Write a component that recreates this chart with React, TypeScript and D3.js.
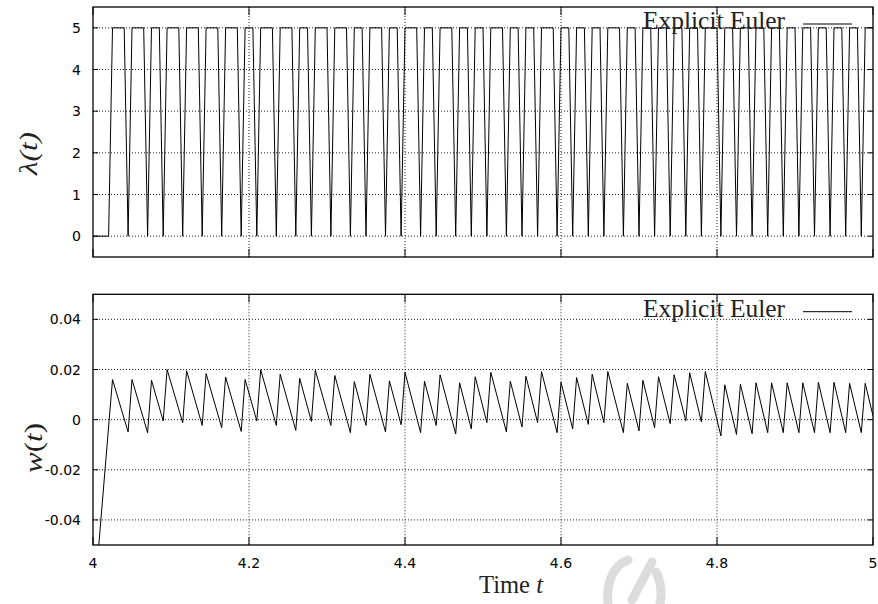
import React from "react";
import * as d3 from "d3";

// ---- data ----
const STEP = 0.005; // integrator step
const T_START = 4.0;
const T_END = 5.0;
const LAMBDA_LOW = 0;
const LAMBDA_HIGH = 5;
const LAMBDA_OFF_UNTIL = 4.02; // λ = 0 from t=4 to here, then switches to 5
// times at which λ drops to 0 (single-sample dips); w has its local minima here
const T_ZERO = [4.045, 4.07, 4.09, 4.115, 4.14, 4.165, 4.19, 4.21, 4.235, 4.26, 4.28, 4.305, 4.33, 4.35, 4.375, 4.395, 4.42, 4.44, 4.465, 4.485, 4.505, 4.53, 4.55, 4.57, 4.595, 4.615, 4.635, 4.655, 4.68, 4.70, 4.72, 4.74, 4.76, 4.78, 4.805, 4.825, 4.845, 4.865, 4.885, 4.905, 4.925, 4.945, 4.965, 4.985];
const W_MIN = [-0.0049, -0.0052, -0.0005, -0.0012, -0.0023, -0.0032, -0.0047, -0.0005, -0.0023, -0.0043, -0.0007, -0.0023, -0.0052, -0.0023, -0.0049, -0.0020, -0.0052, -0.0023, -0.0057, -0.0037, -0.0012, -0.0049, -0.0029, -0.0012, -0.0052, -0.0037, -0.0019, -0.0012, -0.0052, -0.0045, -0.0032, -0.0016, -0.0005, -0.0009, -0.0065, -0.0059, -0.0056, -0.0052, -0.0052, -0.0052, -0.0052, -0.0052, -0.0052, -0.0052];
// w peaks one step after each minimum
const W_PEAK = [0.0160, 0.0157, 0.0200, 0.0195, 0.0184, 0.0170, 0.0160, 0.0199, 0.0181, 0.0165, 0.0197, 0.0176, 0.0152, 0.0181, 0.0155, 0.0189, 0.0153, 0.0179, 0.0147, 0.0171, 0.0189, 0.0153, 0.0173, 0.0192, 0.0149, 0.0168, 0.0181, 0.0192, 0.0145, 0.0157, 0.0171, 0.0179, 0.0187, 0.0192, 0.0139, 0.0141, 0.0147, 0.0147, 0.0147, 0.0147, 0.0149, 0.0149, 0.0145, 0.0145];
const W_AT_START = -0.078;
const W_FIRST_PEAK = 0.016;
const W_AT_END = 0.0015;

const X_TICKS = [4, 4.2, 4.4, 4.6, 4.8, 5];
const X_TICK_LABELS = ["4", "4.2", "4.4", "4.6", "4.8", "5"];
const TOP_Y_TICKS = [0, 1, 2, 3, 4, 5];
const TOP_Y_TICK_LABELS = ["0", "1", "2", "3", "4", "5"];
const BOT_Y_TICKS = [-0.04, -0.02, 0, 0.02, 0.04];
const BOT_Y_TICK_LABELS = ["-0.04", "-0.02", "0", "0.02", "0.04"];
const LEGEND = "Explicit Euler";

// ---- build polylines from the data ----
const lambdaPts: [number, number][] = [
  [T_START, LAMBDA_LOW],
  [LAMBDA_OFF_UNTIL, LAMBDA_LOW],
  [LAMBDA_OFF_UNTIL + STEP, LAMBDA_HIGH],
];
T_ZERO.forEach((t) => {
  lambdaPts.push([t - STEP, LAMBDA_HIGH]);
  lambdaPts.push([t, LAMBDA_LOW]);
  lambdaPts.push([t + STEP, LAMBDA_HIGH]);
});
lambdaPts.push([T_END, LAMBDA_HIGH]);

const wPts: [number, number][] = [
  [T_START, W_AT_START],
  [LAMBDA_OFF_UNTIL + STEP, W_FIRST_PEAK],
];
T_ZERO.forEach((t, i) => {
  wPts.push([t, W_MIN[i]]);
  wPts.push([t + STEP, W_PEAK[i]]);
});
wPts.push([T_END, W_AT_END]);

export default function App() {
  const L = 93, R = 873;
  const topT = 7, topB = 257;
  const botT = 294.3, botB = 545;
  const x = d3.scaleLinear().domain([4, 5]).range([L, R]);
  const yTop = d3.scaleLinear().domain([-0.5, 5.5]).range([topB, topT]);
  const yBot = d3.scaleLinear().domain([-0.05, 0.05]).range([botB, botT]);

  const lineTop = d3.line<[number, number]>().x((d) => x(d[0])).y((d) => yTop(d[1]));
  const lineBot = d3.line<[number, number]>().x((d) => x(d[0])).y((d) => yBot(d[1]));

  const sans = "'DejaVu Sans', sans-serif";
  const serif = "'Liberation Serif', 'Times New Roman', serif";
  const gridStyle = { stroke: "#222", strokeWidth: 1, strokeDasharray: "1,2" };
  const tickX = 8;
  const tickY = 5;

  const panel = (
    yS: d3.ScaleLinear<number, number>,
    t: number,
    b: number,
    yTicks: number[],
    yLabels: string[],
    showX: boolean,
    clipId: string,
    path: string,
    legendBase: number,
    legendLineY: number
  ) => (
    <g>
      <defs>
        <clipPath id={clipId}>
          <rect x={L} y={t} width={R - L} height={b - t} />
        </clipPath>
      </defs>
      {yTicks.map((v, i) => (
        <line key={"hg" + i} x1={L} x2={R} y1={yS(v)} y2={yS(v)} {...gridStyle} />
      ))}
      {X_TICKS.slice(1, -1).map((v, i) => (
        <line key={"vg" + i} x1={x(v)} x2={x(v)} y1={t} y2={b} {...gridStyle} />
      ))}
      {yTicks.map((v, i) => (
        <g key={"yt" + i}>
          <line x1={L} x2={L + tickY} y1={yS(v)} y2={yS(v)} stroke="#000" />
          <line x1={R} x2={R - tickY} y1={yS(v)} y2={yS(v)} stroke="#000" />
          <text x={81} y={yS(v) + 5} textAnchor="end" fontFamily={sans} fontSize={14} fill="#000">
            {yLabels[i]}
          </text>
        </g>
      ))}
      {X_TICKS.map((v, i) => (
        <g key={"xt" + i}>
          <line x1={x(v)} x2={x(v)} y1={b} y2={b - tickX} stroke="#000" />
          <line x1={x(v)} x2={x(v)} y1={t} y2={t + tickX} stroke="#000" />
          {showX && (
            <text x={x(v)} y={568} textAnchor="middle" fontFamily={sans} fontSize={14} fill="#000">
              {X_TICK_LABELS[i]}
            </text>
          )}
        </g>
      ))}
      <path d={path} fill="none" stroke="#000" strokeWidth={1} clipPath={`url(#${clipId})`} />
      <text x={785} y={legendBase} textAnchor="end" fontFamily={serif} fontSize={25} fill="#222" textLength={142} lengthAdjust="spacingAndGlyphs">
        {LEGEND}
      </text>
      <line x1={803} x2={852} y1={legendLineY} y2={legendLineY} stroke="#000" strokeWidth={1} />
      <rect x={L} y={t} width={R - L} height={b - t} fill="none" stroke="#000" strokeWidth={1.3} />
    </g>
  );

  return (
    <svg width={878} height={604} style={{ position: "absolute", left: 0, top: 0, background: "#fff" }}>
      <rect x={0} y={0} width={878} height={604} fill="#fff" />
      <g stroke="#dcdcdc" strokeWidth={9} fill="none" strokeLinecap="round">
        <path d="M 608 604 C 606 585 612 566 628 560" />
        <path d="M 632 600 L 652 562" />
        <path d="M 656 572 C 661 582 662 594 660 604" />
      </g>
      {panel(yTop, topT, topB, TOP_Y_TICKS, TOP_Y_TICK_LABELS, false, "clipTop", lineTop(lambdaPts) || "", topT + 21.5, 24)}
      {panel(yBot, botT, botB, BOT_Y_TICKS, BOT_Y_TICK_LABELS, true, "clipBot", lineBot(wPts) || "", botT + 22.3, 311.7)}
      <text transform={`translate(37, 132) rotate(-90)`} textAnchor="end" fontFamily={serif} fontSize={25} fontStyle="italic" fill="#222" textLength={43} lengthAdjust="spacingAndGlyphs">
        λ(t)
      </text>
      <text transform={`translate(41.5, 423) rotate(-90)`} textAnchor="end" fontFamily={serif} fontSize={25} fill="#222" textLength={50} lengthAdjust="spacingAndGlyphs">
        <tspan fontStyle="italic">w</tspan>(<tspan fontStyle="italic">t</tspan>)
      </text>
      <text x={479} y={593} fontFamily={serif} fontSize={25} fill="#222" textLength={64} lengthAdjust="spacingAndGlyphs">
        Time <tspan fontStyle="italic">t</tspan>
      </text>
    </svg>
  );
}
